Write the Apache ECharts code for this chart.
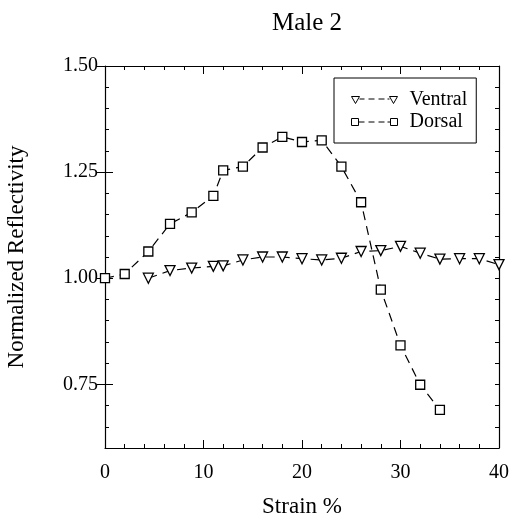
<!DOCTYPE html>
<html>
<head>
<meta charset="utf-8">
<script src="https://cdn.jsdelivr.net/npm/echarts@6/dist/echarts.min.js"></script>
<style>
html,body{margin:0;padding:0;background:#fff;}
#chart{width:511px;height:517px;}
</style>
</head>
<body>
<div id="chart"></div>
<script>
const titleText = 'Male 2';
const xName = 'Strain %';
const yName = 'Normalized Reflectivity';
const seriesNames = ['Ventral', 'Dorsal'];

const ventralX = [4.4, 6.6, 8.8, 11, 12, 14, 16, 18, 20, 22, 24, 26, 28, 30, 32, 34, 36, 38, 40];
const ventralY = [1.000, 1.018, 1.024, 1.028, 1.029, 1.043, 1.050, 1.050, 1.046, 1.043, 1.047, 1.063, 1.065, 1.075, 1.059, 1.045, 1.046, 1.046, 1.032];

const dorsalX = [0, 2, 4.4, 6.6, 8.8, 11, 12, 14, 16, 18, 20, 22, 24, 26, 28, 30, 32, 34];
const dorsalY = [1.000, 1.010, 1.063, 1.128, 1.155, 1.194, 1.254, 1.263, 1.308, 1.333, 1.321, 1.325, 1.263, 1.179, 0.973, 0.842, 0.749, 0.690];

const yMajorTicks = [0.75, 1.00, 1.25, 1.50];
const xMajorTicks = [0, 10, 20, 30, 40];

const FONT = '"Liberation Serif", "DejaVu Serif", serif';

function pairs(xs, ys) { return xs.map((x, i) => [x, ys[i]]); }

const ventralIcon = 'path://M0,0 L8,0 L4,7 Z M8,2.5 L13,2.5 M17,2.5 L23,2.5 M27,2.5 L33,2.5 M36,2.5 L38,2.5 M38,0 L46,0 L42,7 Z';
const dorsalIcon = 'path://M0,0 L7,0 L7,7 L0,7 Z M7,3.5 L13,3.5 M17,3.5 L23,3.5 M27,3.5 L33,3.5 M36,3.5 L39,3.5 M39,0 L46,0 L46,7 L39,7 Z';

const chart = echarts.init(document.getElementById('chart'), null, {renderer: 'canvas'});

const baseX = {
  type: 'value', min: 0, max: 40, interval: 10,
  axisLine: {show: true, onZero: false, lineStyle: {color: '#000', width: 1.2}},
  axisTick: {show: true, inside: true, length: 8, lineStyle: {color: '#000'}},
  minorTick: {show: true, splitNumber: 5, length: 4, lineStyle: {color: '#000'}},
  splitLine: {show: false}
};

const yMinor = {
  type: 'value', min: 0.6, max: 1.5, interval: 0.05,
  axisLine: {show: true, onZero: false, lineStyle: {color: '#000', width: 1.2}},
  axisTick: {show: true, inside: true, length: 4, lineStyle: {color: '#000'}},
  axisLabel: {show: false},
  splitLine: {show: false}
};
const yMajor = {
  type: 'value', min: 0.6, max: 1.5,
  axisLine: {show: false},
  axisTick: {show: true, inside: true, length: 8, customValues: yMajorTicks, lineStyle: {color: '#000'}},
  axisLabel: {show: false},
  splitLine: {show: false}
};

chart.setOption({
  animation: false,
  backgroundColor: '#fff',
  title: {
    text: titleText, left: 302, top: 6, textAlign: 'center',
    textStyle: {fontFamily: FONT, fontSize: 25, fontWeight: 'normal', color: '#000'}
  },
  grid: {left: 105, right: 12, top: 66, bottom: 69, containLabel: false, outerBoundsMode: 'none'},
  legend: {
    left: 334, top: 78, orient: 'vertical',
    padding: [12, 9, 11, 17],
    borderColor: '#000', borderWidth: 1,
    itemWidth: 46, itemHeight: 8, itemGap: 2,
    itemStyle: {color: '#fff', borderColor: '#000', borderWidth: 1},
    textStyle: {fontFamily: FONT, fontSize: 20, color: '#000', lineHeight: 20, padding: [0, 0, 0, 7]},
    data: [
      {name: seriesNames[0], icon: ventralIcon},
      {name: seriesNames[1], icon: dorsalIcon}
    ]
  },
  xAxis: [
    Object.assign({}, baseX, {
      position: 'bottom', name: xName, nameLocation: 'middle', nameGap: 47,
      nameTextStyle: {fontFamily: FONT, fontSize: 23, color: '#000'},
      axisLabel: {show: true, margin: 15, fontFamily: FONT, fontSize: 20, color: '#000', customValues: xMajorTicks}
    }),
    Object.assign({}, baseX, {position: 'top', axisLabel: {show: false}})
  ],
  yAxis: [
    Object.assign({}, yMinor, {
      position: 'left', name: yName, nameLocation: 'middle', nameGap: 77,
      nameTextStyle: {fontFamily: FONT, fontSize: 23, color: '#000'},
      axisLabel: {show: true, margin: 7, fontFamily: FONT, fontSize: 20, color: '#000',
        customValues: yMajorTicks, formatter: v => v.toFixed(2)}
    }),
    Object.assign({}, yMajor, {position: 'left'}),
    Object.assign({}, yMinor, {position: 'right'}),
    Object.assign({}, yMajor, {position: 'right'})
  ],
  series: [
    {
      name: seriesNames[0], type: 'line', xAxisIndex: 0, yAxisIndex: 0,
      data: pairs(ventralX, ventralY),
      symbol: 'triangle', symbolRotate: 180, symbolSize: 10, showAllSymbol: true,
      itemStyle: {color: '#fff', borderColor: '#000', borderWidth: 1.3},
      lineStyle: {color: '#000', width: 1.2, type: [9, 6]},
      z: 3
    },
    {
      name: seriesNames[1], type: 'line', xAxisIndex: 0, yAxisIndex: 0,
      data: pairs(dorsalX, dorsalY),
      symbol: 'rect', symbolSize: 9, showAllSymbol: true,
      itemStyle: {color: '#fff', borderColor: '#000', borderWidth: 1.3},
      lineStyle: {color: '#000', width: 1.2, type: [9, 6]},
      z: 4
    }
  ]
});
</script>
</body>
</html>
